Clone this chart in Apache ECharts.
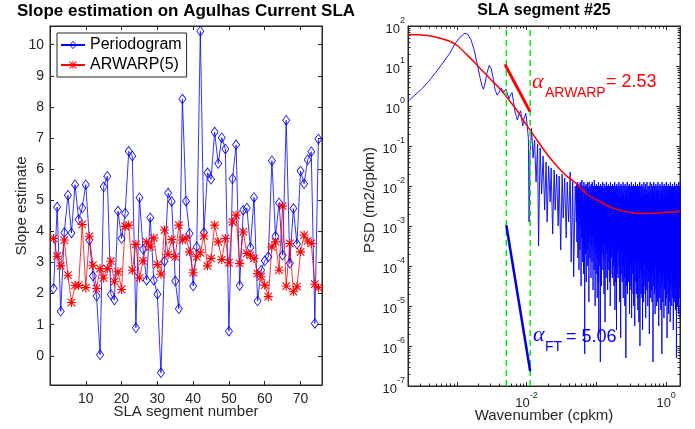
<!DOCTYPE html>
<html><head><meta charset="utf-8">
<script src="https://cdn.jsdelivr.net/npm/echarts@6/dist/echarts.min.js"></script>
<style>html,body{margin:0;padding:0;background:#fff}#c{width:695px;height:429px}</style>
</head><body><div id="c"></div>
<script>
// ---------- Left panel data ----------
const periodogramSlopes = [2.16,4.78,1.43,3.96,5.16,3.95,5.5,4.38,4.75,5.5,
3.72,2.56,1.92,0.03,5.43,5.77,1.97,1.79,4.65,3.77,
4.58,6.57,6.42,0.9,5.08,3.42,2.43,4.44,2.43,1.98,
-0.55,3.04,5.23,4.96,2.4,1.51,8.25,4.97,3.93,2.24,
3.5,10.43,3.96,5.88,5.67,7.19,6.18,7.01,6.65,0.79,
5.69,6.78,2.26,4.68,4.75,3.48,5.09,1.76,2.75,3.05,
3.18,6.27,3.84,4.91,3.23,7.57,2.97,4.73,3.59,5.94,
5.53,6.3,6.56,1.04,6.97];
const arwarpSlopes = [3.77,3.2,2.89,3.72,2.59,1.71,2.26,2.26,4.22,2.19,
3.84,2.91,2.16,2.8,2.5,2.8,3.04,2.38,2.7,2.13,
4.16,4.2,2.75,3.58,2.5,3.05,3.66,3.5,3.79,2.93,
2.62,4.04,3.25,3.74,3.18,4.2,3.72,3.79,3.34,2.67,
3.18,3.31,3.85,2.89,3.13,4.2,3.66,3.09,3.77,2.99,
4.3,4.52,2.97,3.98,3.29,3.23,3.13,2.64,2.54,2.27,
1.9,3.5,3.66,2.75,4.81,2.24,3.61,2.06,2.22,3.34,
3.88,3.69,3.61,2.3,2.19];
const segmentNumbers = periodogramSlopes.map((_, i) => i + 1);

// ---------- Right panel data (log10 values) ----------
const psdLowLogF = [-3.698,-3.602,-3.501,-3.401,-3.300,-3.200,-3.099,-3.027,-2.955,-2.884,
-2.841,-2.797,-2.754,-2.711,-2.668,-2.639,-2.618,-2.596,-2.568,-2.534,
-2.510,-2.481,-2.453,-2.420,-2.395,-2.366,-2.345,-2.323,-2.295,-2.273,
-2.251,-2.230,-2.208,-2.187,-2.165,-2.132,-2.108,-2.086,-2.055,-2.036,
-2.011,-1.993,-1.974,-1.964,-1.950,-1.928,-1.907,-1.885,-1.864,-1.842,
-1.828,-1.806,-1.784,-1.763,-1.741,-1.720,-1.705,-1.684,-1.662,-1.648,
-1.626,-1.605,-1.590,-1.569,-1.547,-1.533,-1.511,-1.490,-1.475,-1.454,
-1.432,-1.418,-1.397,-1.375,-1.361,-1.339,-1.325,-1.303];
const psdLowLogP = [0.12,0.27,0.43,0.62,0.84,1.08,1.32,1.55,1.72,1.82,
1.79,1.66,1.42,1.08,0.72,0.5,0.42,0.55,0.82,1.02,
0.95,0.72,0.42,0.27,0.34,0.45,0.40,0.35,0.42,0.30,
0.18,0.28,0.34,0.1,-0.15,-0.35,-0.2,-0.12,-0.5,-0.3,
-0.18,-0.45,-0.81,-2.9,-1.2,-0.56,-1.3,-0.85,-1.9,-0.95,
-3.5,-1.05,-2.2,-1.25,-2.6,-1.4,-2.9,-1.5,-2.4,-1.55,
-3.2,-1.6,-2.6,-1.7,-3.0,-1.75,-3.6,-1.7,-2.8,-1.8,
-3.3,-1.9,-2.9,-1.65,-3.9,-1.9,-4.27,-2.0];
const psdHighLogFRange = [-1.29, 0.20];
const psdHighLogP = [
-2.0,-2.9,-1.95,-3.4,-2.1,-2.7,-1.9,-3.8,-2.2,-3.1,
-1.95,-4.1,-2.05,-2.8,-2.3,-3.6,-1.9,-3.0,-2.1,-4.5,
-2.0,-3.3,-1.85,-2.9,-2.2,-3.9,-2.0,-3.2,-2.4,-4.2,
-1.9,-3.5,-2.1,-6.2,-2.0,-3.1,-2.3,-3.7,-1.95,-4.4,
-2.15,-3.0,-2.0,-3.6,-1.9,-4.0,-2.25,-3.3,-2.05,-4.9,
-1.9,-3.4,-2.2,-3.8,-2.0,-3.2,-2.1,-4.3,-1.95,-3.5,
-2.2,-3.9,-1.9,-3.3,-2.1,-4.6,-2.0,-3.6,-2.3,-4.1,
-1.85,-3.4,-2.15,-5.0,-2.0,-3.7,-2.2,-4.2,-1.95,-3.5,
-2.1,-4.8,-2.0,-3.8,-2.35,-4.4,-1.9,-5.7,-2.1,-3.6,
-2.0,-4.0,-2.25,-6.4,-1.95,-3.9,-2.1,-4.5,-2.0,-3.7,
-2.3,-3.5,-1.9,-4.1,-2.05,-3.8,-2.2,-4.7,-1.95,-3.4,
-2.1,-5.4,-2.0,-3.9,-2.3,-4.3,-1.9,-3.6,-2.15,-3.7,
-2.0,-4.6,-2.25,-4.1,-1.95,-3.5,-2.1,-3.9,-2.0,-4.4,
-2.3,-5.0,-1.9,-4.2,-2.1,-3.8,-2.0,-3.4,-2.2,-4.3,
-1.95,-3.6,-2.1,-4.0,-2.0,-4.5,-2.3,-3.9,-1.9,-5.1,
-2.15,-4.4,-2.0,-4.1,-2.2,-5.6,-1.95,-4.2,-2.1,-3.7,
-2.0,-4.3,-2.25,-3.6,-1.9,-4.0,-2.1,-4.9,-2.0,-3.8,
-2.3,-5.8,-1.95,-4.2,-2.1,-3.7,-2.0,-4.4,-2.2,-4.0,
-1.9,-4.8,-2.15,-3.9,-2.0,-4.3,-2.3,-5.0,-1.95,-3.8,
-2.1,-6.3,-2.0,-4.5,-2.25,-3.9,-1.9,-4.7,-2.1,-4.1,
-2.0,-4.4,-2.3,-3.8,-1.95,-5.2,-2.1,-4.6,-2.0,-4.0,
-2.2,-4.5,-1.9,-5.3,-2.15,-3.9,-2.0,-4.2,-2.3,-4.7,
-1.95,-5.0,-2.1,-4.1,-2.0,-5.5,-2.25,-3.9,-1.9,-4.4,
-2.1,-4.7,-2.0,-4.0,-2.3,-4.8,-1.95,-5.1,-2.1,-3.9,
-2.0,-5.4,-2.2,-4.3,-1.9,-6.0,-2.15,-4.1,-2.0,-4.7,
-2.3,-4.2,-1.95,-4.8,-2.1,-5.6,-2.0,-4.0,-2.2,-4.9,
-1.9,-4.5,-2.2,-3.9,-2.05,-4.7,-1.95,-5.3,-2.3,-4.2,
-2.1,-4.6,-1.9,-4.1,-2.2,-5.0,-2.0,-4.4,-2.15,-3.9,
-2.0,-5.7,-2.25,-4.3,-1.9,-4.8,-2.1,-4.0,-2.3,-4.6,
-1.95,-4.9,-2.1,-4.2,-2.0,-6.4,-2.2,-4.5,-1.9,-4.1,
-2.15,-4.7,-2.0,-5.2,-2.3,-4.0,-1.95,-4.6,-2.1,-5.0,
-2.0,-4.3,-2.2,-4.9,-1.9,-4.4,-2.1,-5.5,-2.0,-4.2,
-2.3,-4.8,-1.95,-4.1,-2.15,-5.1,-2.0,-4.5,-2.2,-6.2,
-1.9,-4.4,-2.1,-4.9,-2.0,-4.2,-2.3,-5.3,-1.95,-4.6,
-2.1,-4.0,-2.0,-5.0,-2.25,-4.5,-1.9,-4.8,-2.1,-5.8,
-2.0,-4.3,-2.3,-4.7,-1.95,-5.2,-2.1,-4.4,-2.0,-4.9,
-2.2,-5.4,-1.9,-4.5,-2.15,-4.1,-2.0,-5.0,-2.3,-4.6,
-1.95,-4.8,-2.1,-5.6,-2.0,-4.3,-2.2,-4.9,-1.9,-4.5,
-2.1,-5.1,-2.0,-4.4,-2.3,-6.3,-1.95,-4.7,-2.1,-5.0,
-2.0,-4.6,-2.2,-5.2,-1.9,-4.8,-2.15,-4.5,-2.0,-5.3];
const arLogF = [-3.698,-3.530,-3.339,-3.099,-2.984,-2.859,-2.740,-2.621,-2.500,-2.381,
-2.266,-2.141,-2.050,-1.950,-1.864,-1.782,-1.677,-1.566,-1.432,-1.279,
-1.135,-0.944,-0.753,-0.542,-0.322,-0.082,0.062,0.200];
const arLogP = [1.79,1.78,1.74,1.62,1.50,1.29,1.08,0.86,0.64,0.43,
0.18,-0.10,-0.35,-0.60,-0.82,-1.02,-1.27,-1.50,-1.74,-1.95,
-2.20,-2.40,-2.56,-2.65,-2.69,-2.67,-2.65,-2.63];
const bandLogF = [-2.29, -1.948];
const fitArwarp = [[-2.31, 1.04], [-1.95, -0.14]];
const fitFT = [[-2.29, -2.98], [-1.948, -6.63]];

// ---------- build ----------
const p10 = v => Math.pow(10, v);
const psdData = [];
psdLowLogF.forEach((f, i) => psdData.push([p10(f), p10(psdLowLogP[i])]));
const nH = psdHighLogP.length;
psdHighLogP.forEach((v, i) => {
  const lf = psdHighLogFRange[0] + (psdHighLogFRange[1] - psdHighLogFRange[0]) * i / (nH - 1);
  psdData.push([p10(lf), p10(v)]);
});
const arData = arLogF.map((f, i) => [p10(f), p10(arLogP[i])]);

const AX = '#262626';
const FONT = '"Liberation Sans", Arial, sans-serif';
const starPath = 'path://M0,4.4L10,4.4L10,5.6L0,5.6Z M4.4,0L5.6,0L5.6,10L4.4,10Z M0.4,1.25L1.25,0.4L9.6,8.75L8.75,9.6Z M8.75,0.4L9.6,1.25L1.25,9.6L0.4,8.75Z';
// hollow diamond outline (outer clockwise, inner counter-clockwise)
const diamondPath = 'path://M5,0L10,7L5,14L0,7Z M5,1.7L1.2,7L5,12.3L8.8,7Z';

const tickIn = {show: true, inside: true, length: 4, lineStyle: {color: AX, width: 1}};
const lineAx = {show: true, onZero: false, lineStyle: {color: AX, width: 1}};
const lbl = {color: AX, fontSize: 14, fontFamily: FONT};

function logLabel(showFn) {
  return {
    color: AX, fontFamily: FONT, showMinLabel: true, showMaxLabel: true,
    formatter: v => {
      const l = Math.log10(v), e = Math.round(l);
      if (Math.abs(l - e) > 1e-6 || !showFn(e)) return '';
      return '{b|10}{s|' + e + '}';
    },
    rich: {
      b: {fontSize: 13, fontFamily: FONT, color: AX, padding: [6, 0, 0, 0]},
      s: {fontSize: 9, fontFamily: FONT, color: AX, verticalAlign: 'top'}
    }
  };
}

const minorMult = [2, 3, 4, 5, 6, 7, 8, 9];
function minorTicks(lo, hi) {
  const out = [];
  for (let k = Math.floor(Math.log10(lo)); k <= Math.ceil(Math.log10(hi)); k++)
    minorMult.forEach(m => { const v = m * Math.pow(10, k); if (v > lo && v < hi) out.push(v); });
  return out;
}
const xMinor = minorTicks(2e-4, 1.58);
const yMinor = minorTicks(1e-7, 100);

const chart = echarts.init(document.getElementById('c'), null, {renderer: 'canvas'});
chart.setOption({
  animation: false,
  backgroundColor: '#fff',
  grid: [
    {left: 50, top: 26, width: 272, height: 359, show: true, borderColor: AX, borderWidth: 1, backgroundColor: 'transparent'},
    {left: 408, top: 26, width: 272, height: 360, show: true, borderColor: AX, borderWidth: 1, backgroundColor: 'transparent'}
  ],
  xAxis: [
    {gridIndex: 0, type: 'value', min: 0, max: 76, splitNumber: 8, minInterval: 10, maxInterval: 10,
     position: 'bottom', axisLine: lineAx, axisTick: tickIn, splitLine: {show: false},
     axisLabel: Object.assign({margin: 7, showMinLabel: false, showMaxLabel: false}, lbl)},
    {gridIndex: 0, type: 'value', min: 0, max: 76, splitNumber: 8, minInterval: 10, maxInterval: 10,
     position: 'top', axisLine: lineAx, axisTick: tickIn, splitLine: {show: false}, axisLabel: {show: false}},
    {gridIndex: 1, type: 'log', logBase: 10, min: 2e-4, max: 1.58, position: 'bottom',
     axisLine: lineAx, axisTick: tickIn, splitLine: {show: false},
     axisLabel: Object.assign({margin: 5}, logLabel(e => e % 2 === 0))},
    {gridIndex: 1, type: 'log', logBase: 10, min: 2e-4, max: 1.58, position: 'top',
     axisLine: lineAx, axisTick: tickIn, splitLine: {show: false}, axisLabel: {show: false}}
  ],
  yAxis: [
    {gridIndex: 0, type: 'value', min: -0.94, max: 10.6, splitNumber: 11, minInterval: 1, maxInterval: 1,
     position: 'left', axisLine: lineAx, axisTick: tickIn, splitLine: {show: false},
     axisLabel: Object.assign({margin: 6, showMinLabel: false, showMaxLabel: false}, lbl)},
    {gridIndex: 0, type: 'value', min: -0.94, max: 10.6, splitNumber: 11, minInterval: 1, maxInterval: 1,
     position: 'right', axisLine: lineAx, axisTick: tickIn, splitLine: {show: false}, axisLabel: {show: false}},
    {gridIndex: 1, type: 'log', logBase: 10, min: 1e-7, max: 100, position: 'left',
     axisLine: lineAx, axisTick: tickIn, splitLine: {show: false},
     axisLabel: Object.assign({margin: 3}, logLabel(e => true))},
    {gridIndex: 1, type: 'log', logBase: 10, min: 1e-7, max: 100, position: 'right',
     axisLine: lineAx, axisTick: tickIn, splitLine: {show: false}, axisLabel: {show: false}}
  ],
  legend: {
    left: 57, top: 33, orient: 'vertical', data: ['Periodogram', 'ARWARP(5)'],
    backgroundColor: '#fff', borderColor: AX, borderWidth: 1, padding: [4, 5, 4, 3],
    itemWidth: 24, itemHeight: 10, itemGap: 4,
    textStyle: {fontSize: 16, fontFamily: FONT, color: '#000'}
  },
  series: [
    {name: 'Periodogram', type: 'line', xAxisIndex: 0, yAxisIndex: 0,
     data: segmentNumbers.map((s, i) => [s, periodogramSlopes[i]]),
     symbol: diamondPath, symbolSize: [8, 11], showAllSymbol: true,
     lineStyle: {color: '#0000ff', width: 0.8}, itemStyle: {color: '#0000ff', borderWidth: 0}},
    {name: 'ARWARP(5)', type: 'line', xAxisIndex: 0, yAxisIndex: 0,
     data: segmentNumbers.map((s, i) => [s, arwarpSlopes[i]]),
     symbol: starPath, symbolSize: 9, showAllSymbol: true,
     lineStyle: {color: '#ff0000', width: 0.8}, itemStyle: {color: '#ff0000'}},
    {name: 'psd', type: 'line', xAxisIndex: 2, yAxisIndex: 2, data: psdData, showSymbol: false,
     sampling: null, lineStyle: {color: '#0000ff', width: 0.9}},
    {name: 'ar', type: 'line', xAxisIndex: 2, yAxisIndex: 2, data: arData, showSymbol: false, smooth: 0.3,
     lineStyle: {color: '#ff0000', width: 1.5}},
    {name: 'band1', type: 'line', xAxisIndex: 2, yAxisIndex: 2, showSymbol: false,
     data: [[p10(bandLogF[0]), 1e-7], [p10(bandLogF[0]), 100]],
     lineStyle: {color: '#00ee00', width: 1.5, type: [6, 4]}},
    {name: 'band2', type: 'line', xAxisIndex: 2, yAxisIndex: 2, showSymbol: false,
     data: [[p10(bandLogF[1]), 1e-7], [p10(bandLogF[1]), 100]],
     lineStyle: {color: '#00ee00', width: 1.5, type: [6, 4]}},
    {name: 'fitA', type: 'line', xAxisIndex: 2, yAxisIndex: 2, showSymbol: false,
     data: fitArwarp.map(p => [p10(p[0]), p10(p[1])]), lineStyle: {color: '#ff0000', width: 3}},
    {name: 'fitF', type: 'line', xAxisIndex: 2, yAxisIndex: 2, showSymbol: false,
     data: fitFT.map(p => [p10(p[0]), p10(p[1])]), lineStyle: {color: '#0000e6', width: 2.5}},
    {name: 'minorTicks', type: 'custom', xAxisIndex: 2, yAxisIndex: 2, silent: true, clip: false,
     data: [[1e-2, 1e-2]],
     renderItem: (params, api) => {
       const L = 2.5, ch = [];
       const ls = {stroke: AX, lineWidth: 1};
       xMinor.forEach(v => {
         const b = api.coord([v, 1e-7]), t = api.coord([v, 100]);
         const x = Math.round(b[0]) + 0.5;
         ch.push({type: 'line', shape: {x1: x, y1: b[1], x2: x, y2: b[1] - L}, style: ls});
         ch.push({type: 'line', shape: {x1: x, y1: t[1], x2: x, y2: t[1] + L}, style: ls});
       });
       yMinor.forEach(v => {
         const l = api.coord([2e-4, v]), r = api.coord([1.58, v]);
         const y = Math.round(l[1]) + 0.5;
         ch.push({type: 'line', shape: {x1: l[0], y1: y, x2: l[0] + L, y2: y}, style: ls});
         ch.push({type: 'line', shape: {x1: r[0], y1: y, x2: r[0] - L, y2: y}, style: ls});
       });
       return {type: 'group', children: ch};
     }}
  ],
  graphic: [
    {type: 'text', x: 186, y: 11, style: {text: 'Slope estimation on Agulhas Current SLA', font: 'bold 17px ' + FONT, fill: '#000', textAlign: 'center', textVerticalAlign: 'middle'}},
    {type: 'text', x: 544, y: 11, style: {text: 'SLA segment #25', font: 'bold 16px ' + FONT, fill: '#000', textAlign: 'center', textVerticalAlign: 'middle'}},
    {type: 'text', x: 186, y: 412, style: {text: 'SLA segment number', font: '15px ' + FONT, fill: AX, textAlign: 'center', textVerticalAlign: 'middle'}},
    {type: 'text', x: 22, y: 206, rotation: Math.PI / 2, style: {text: 'Slope estimate', font: '15px ' + FONT, fill: AX, textAlign: 'center', textVerticalAlign: 'middle'}},
    {type: 'text', x: 544, y: 416, style: {text: 'Wavenumber (cpkm)', font: '15px ' + FONT, fill: AX, textAlign: 'center', textVerticalAlign: 'middle'}},
    {type: 'text', x: 370, y: 200, rotation: Math.PI / 2, style: {text: 'PSD (m2/cpkm)', font: '15px ' + FONT, fill: AX, textAlign: 'center', textVerticalAlign: 'middle'}},
    {type: 'text', x: 532, y: 82, style: {text: 'α', font: 'italic 22px "Liberation Serif", serif', fill: '#ff0000', textAlign: 'left', textVerticalAlign: 'middle'}},
    {type: 'text', x: 545, y: 93, style: {text: 'ARWARP', font: '14px ' + FONT, fill: '#ff0000', textAlign: 'left', textVerticalAlign: 'middle'}},
    {type: 'text', x: 606, y: 82, style: {text: '= 2.53', font: '18px ' + FONT, fill: '#ff0000', textAlign: 'left', textVerticalAlign: 'middle'}},
    {type: 'text', x: 533, y: 335, style: {text: 'α', font: 'italic 22px "Liberation Serif", serif', fill: '#0000ff', textAlign: 'left', textVerticalAlign: 'middle'}},
    {type: 'text', x: 545, y: 347.5, style: {text: 'FT', font: '14px ' + FONT, fill: '#0000ff', textAlign: 'left', textVerticalAlign: 'middle'}},
    {type: 'text', x: 566, y: 337, style: {text: '= 5.06', font: '18px ' + FONT, fill: '#0000ff', textAlign: 'left', textVerticalAlign: 'middle'}}
  ]
});
</script></body></html>
